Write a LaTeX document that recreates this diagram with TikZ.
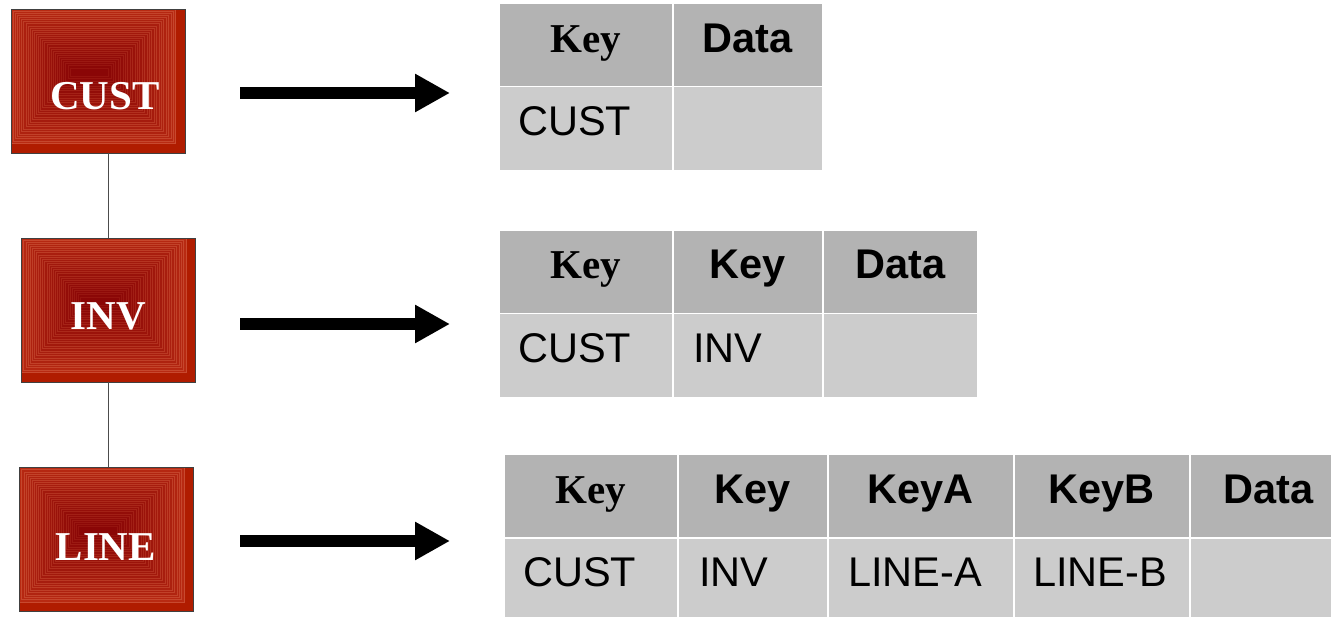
\documentclass[tikz,border=0pt]{standalone}
\usepackage{fontspec}
\setmainfont{Liberation Serif}
\setsansfont{Liberation Sans}
\usetikzlibrary{arrows.meta}

\definecolor{rout}{HTML}{B82A12}
\definecolor{rin}{HTML}{8A0606}
\definecolor{rbase}{HTML}{B01C00}
\definecolor{rline}{HTML}{D05A3E}
\definecolor{hdr}{HTML}{B3B3B3}
\definecolor{bdy}{HTML}{CCCCCC}

\tikzset{
  % red record box with concentric rings
  redbox/.style={rectangle, inner sep=0pt, minimum width=174pt, minimum height=144pt,
    fill=rbase, draw=black!75, line width=0.8pt,
    path picture={
      \foreach \i in {0,...,28}{
        \pgfmathsetmacro{\ringP}{100*(\i/28)^0.8}
        \pgfmathsetmacro{\ringQ}{65-0.5*\ringP}
        \pgfmathsetmacro{\ringA}{2.1*\i}
        \pgfmathsetmacro{\ringB}{9.5+2.4*\i}
        \colorlet{ringfill}{rin!\ringP!rout}
        \filldraw[fill=ringfill, draw=rline!\ringQ!ringfill, line width=0.4pt]
          ([shift={(\ringA pt,-\ringA pt)}]path picture bounding box.north west) rectangle
          ([shift={(-\ringB pt,\ringB pt)}]path picture bounding box.south east);
      }
    }},
  boxlabel/.style={text=white, font=\fontsize{41}{41}\selectfont\rmfamily\bfseries,
    inner sep=0pt, anchor=base},
  link/.style={draw=black!70, line width=1pt},
  bigarrow/.style={line width=12pt, -{Triangle[length=35pt,width=36pt]}},
  cell/.style={rectangle, inner sep=0pt, draw=white, line width=1.5pt, anchor=north west},
  hcell/.style={cell, fill=hdr},
  bcell/.style={cell, fill=bdy},
  hserif/.style={font=\fontsize{41}{41}\selectfont\rmfamily\bfseries, inner sep=0pt, anchor=base},
  hsans/.style={font=\fontsize{41.5}{41.5}\selectfont\sffamily\bfseries, inner sep=0pt, anchor=base},
  btext/.style={font=\fontsize{41.5}{41.5}\selectfont\sffamily, inner sep=0pt, anchor=base west},
}

\begin{document}
\begin{tikzpicture}[x=1pt, y=-1pt]
\useasboundingbox (0,0) rectangle (1331,617);
\clip (0,0) rectangle (1331,617);

% record boxes
\node[redbox] (cust) at (98,81) {};
\node[redbox] (inv) at (108.5,310) {};
\node[redbox] (line) at (106.5,539.5) {};
\node[boxlabel] (custlbl) at (105,110) {CUST};
\node[boxlabel] (invlbl) at (108.3,330) {INV};
\node[boxlabel] (linelbl) at (105.8,560) {LINE};

% hierarchy links
\draw[link] (cust.south -| inv.north) -- (inv.north);
\draw[link] (inv.south) -- (inv.south |- line.north);

% arrows
\coordinate (a1s) at (240,93);  \coordinate (a1e) at (450,93);
\coordinate (a2s) at (240,324); \coordinate (a2e) at (450,324);
\coordinate (a3s) at (240,541); \coordinate (a3e) at (450,541);
\draw[bigarrow] (a1s) -- (a1e);
\draw[bigarrow] (a2s) -- (a2e);
\draw[bigarrow] (a3s) -- (a3e);

% table 1
\node[hcell, minimum width=174pt, minimum height=83pt] (t1h1) at (498,3) {};
\node[hcell, minimum width=150pt, minimum height=83pt] (t1h2) at (672,3) {};
\node[bcell, minimum width=174pt, minimum height=84pt] (t1b1) at (498,86) {};
\node[bcell, minimum width=150pt, minimum height=84pt] (t1b2) at (672,86) {};
\node[hserif] (t1k1) at ([yshift=-7.5pt]t1h1.center) {Key};
\node[hsans] (t1d) at ([yshift=-7.5pt]t1h2.center) {Data};
\node[btext] (t1c) at ([xshift=20pt,yshift=-7pt]t1b1.west) {CUST};

% table 2
\node[hcell, minimum width=174pt, minimum height=83pt] (t2h1) at (498,230) {};
\node[hcell, minimum width=150pt, minimum height=83pt] (t2h2) at (672,230) {};
\node[hcell, minimum width=155pt, minimum height=83pt] (t2h3) at (822,230) {};
\node[bcell, minimum width=174pt, minimum height=84pt] (t2b1) at (498,313) {};
\node[bcell, minimum width=150pt, minimum height=84pt] (t2b2) at (672,313) {};
\node[bcell, minimum width=155pt, minimum height=84pt] (t2b3) at (822,313) {};
\node[hserif] (t2k1) at ([yshift=-6.5pt]t2h1.center) {Key};
\node[hsans] (t2k2) at ([yshift=-6.5pt]t2h2.center) {Key};
\node[hsans] (t2d) at ([yshift=-6.5pt]t2h3.center) {Data};
\node[btext] (t2c) at ([xshift=20pt,yshift=-7pt]t2b1.west) {CUST};
\node[btext] (t2i) at ([xshift=21pt,yshift=-7pt]t2b2.west) {INV};

% table 3
\node[hcell, minimum width=174pt, minimum height=83pt] (t3h1) at (503,454) {};
\node[hcell, minimum width=150pt, minimum height=83pt] (t3h2) at (677,454) {};
\node[hcell, minimum width=186pt, minimum height=83pt] (t3h3) at (827,454) {};
\node[hcell, minimum width=176pt, minimum height=83pt] (t3h4) at (1013,454) {};
\node[hcell, minimum width=158pt, minimum height=83pt] (t3h5) at (1189,454) {};
\node[bcell, minimum width=174pt, minimum height=83pt] (t3b1) at (503,537) {};
\node[bcell, minimum width=150pt, minimum height=83pt] (t3b2) at (677,537) {};
\node[bcell, minimum width=186pt, minimum height=83pt] (t3b3) at (827,537) {};
\node[bcell, minimum width=176pt, minimum height=83pt] (t3b4) at (1013,537) {};
\node[bcell, minimum width=158pt, minimum height=83pt] (t3b5) at (1189,537) {};
\node[hserif] (t3k1) at ([yshift=-7.5pt]t3h1.center) {Key};
\node[hsans] (t3k2) at ([yshift=-7.5pt]t3h2.center) {Key};
\node[hsans] (t3ka) at ([yshift=-7.5pt]t3h3.center) {KeyA};
\node[hsans] (t3kb) at ([yshift=-7.5pt]t3h4.center) {KeyB};
\node[hsans] (t3d) at ([yshift=-7.5pt]t3h5.center) {Data};
\node[btext] (t3c) at ([xshift=20pt,yshift=-7.5pt]t3b1.west) {CUST};
\node[btext] (t3i) at ([xshift=22pt,yshift=-7.5pt]t3b2.west) {INV};
\node[btext] (t3la) at ([xshift=21pt,yshift=-7.5pt]t3b3.west) {LINE-A};
\node[btext] (t3lb) at ([xshift=20pt,yshift=-7.5pt]t3b4.west) {LINE-B};
\end{tikzpicture}
\end{document}
